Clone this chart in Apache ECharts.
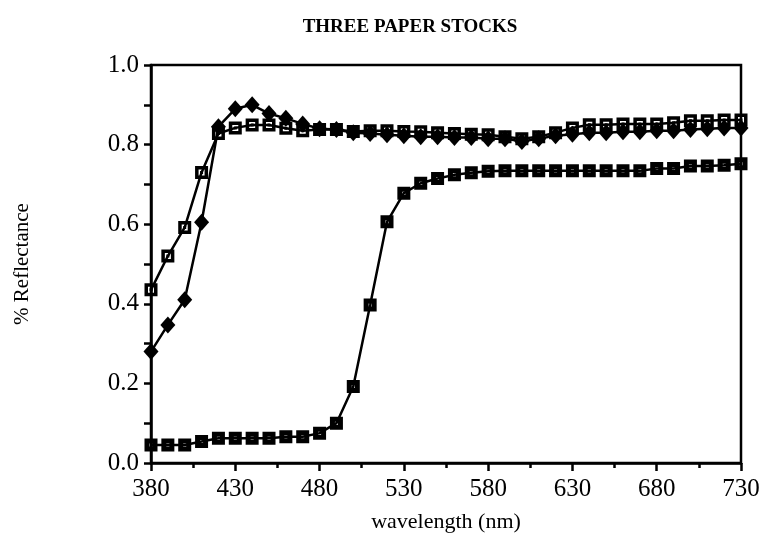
<!DOCTYPE html>
<html>
<head>
<meta charset="utf-8">
<script src="https://cdn.jsdelivr.net/npm/echarts@6/dist/echarts.min.js"></script>
<style>
  html, body { margin: 0; padding: 0; background: #fff; }
  #chart { width: 766px; height: 556px; }
</style>
</head>
<body>
<div id="chart"></div>
<script>
// Wavelengths sampled every 10 nm
const wavelengths = [380, 390, 400, 410, 420, 430, 440, 450, 460, 470,
  480, 490, 500, 510, 520, 530, 540, 550, 560, 570,
  580, 590, 600, 610, 620, 630, 640, 650, 660, 670,
  680, 690, 700, 710, 720, 730];

// Reflectance of each paper stock (fraction)
const stockOpenSquare = [0.435, 0.52, 0.592, 0.73, 0.828, 0.842, 0.849, 0.849, 0.841, 0.835,
  0.838, 0.838, 0.833, 0.835, 0.835, 0.833, 0.832, 0.830, 0.828, 0.826,
  0.825, 0.820, 0.815, 0.820, 0.830, 0.842, 0.850, 0.850, 0.852, 0.852,
  0.852, 0.855, 0.860, 0.860, 0.862, 0.862];

const stockDiamond = [0.28, 0.347, 0.41, 0.605, 0.845, 0.89, 0.90, 0.878, 0.866, 0.852,
  0.840, 0.838, 0.830, 0.828, 0.825, 0.822, 0.820, 0.820, 0.818, 0.818,
  0.815, 0.815, 0.808, 0.815, 0.822, 0.826, 0.830, 0.830, 0.832, 0.832,
  0.835, 0.835, 0.838, 0.840, 0.842, 0.842];

const stockFilledSquare = [0.045, 0.045, 0.045, 0.054, 0.062, 0.062, 0.062, 0.062, 0.066, 0.066,
  0.075, 0.10, 0.192, 0.397, 0.606, 0.678, 0.703, 0.715, 0.724, 0.729,
  0.733, 0.734, 0.734, 0.734, 0.734, 0.734, 0.734, 0.734, 0.734, 0.734,
  0.740, 0.740, 0.746, 0.746, 0.748, 0.752];

const xTicks = { min: 380, max: 730, step: 50 };
const yTicks = { min: 0, max: 1, step: 0.2 };

const pairs = vals => wavelengths.map((w, i) => [w, vals[i]]);

// Marker outlines: outer square clockwise, holes counter-clockwise (nonzero fill)
const openSquareDot = 'path://M0 0L13 0L13 13L0 13Z M3.5 3.5L3.5 9.5L9.5 9.5L9.5 3.5Z M5 5L8 5L8 8L5 8Z';
const filledSquareDot = 'path://M0 0L13 0L13 13L0 13Z M5 5L5 8L8 8L8 5Z';

const serif = '"Liberation Serif", "DejaVu Serif", serif';
const ink = '#000';

const chart = echarts.init(document.getElementById('chart'), null, { renderer: 'canvas' });

chart.setOption({
  backgroundColor: '#fff',
  animation: false,
  title: {
    text: 'THREE PAPER STOCKS',
    left: 405,
    textAlign: 'center',
    top: 13,
    textStyle: { fontFamily: serif, fontWeight: 'bold', fontSize: 19, color: ink }
  },
  grid: {
    left: 151, right: 25, top: 65, bottom: 93,
    show: true, borderColor: ink, borderWidth: 2.5, backgroundColor: 'transparent'
  },
  xAxis: {
    type: 'value',
    min: xTicks.min, max: xTicks.max, interval: xTicks.step,
    name: 'wavelength (nm)',
    nameLocation: 'middle',
    nameGap: 48,
    nameTextStyle: { fontFamily: serif, fontSize: 22, color: ink },
    axisLine: { show: true, lineStyle: { color: ink, width: 2.5 } },
    axisTick: { show: true, inside: false, length: 8, lineStyle: { color: ink, width: 2.5 } },
    minorTick: { show: true, splitNumber: 2, length: 5, lineStyle: { color: ink, width: 2.5 } },
    splitLine: { show: false },
    axisLabel: { fontFamily: serif, fontSize: 25, color: ink, margin: 14 }
  },
  yAxis: {
    type: 'value',
    min: yTicks.min, max: yTicks.max, interval: yTicks.step,
    name: '% Reflectance',
    nameLocation: 'middle',
    nameGap: 118,
    nameRotate: 90,
    nameTextStyle: { fontFamily: serif, fontSize: 21, color: ink },
    axisLine: { show: true, lineStyle: { color: ink, width: 2.5 } },
    axisTick: { show: true, inside: false, length: 7, lineStyle: { color: ink, width: 2.5 } },
    minorTick: { show: true, splitNumber: 2, length: 7, lineStyle: { color: ink, width: 2.5 } },
    splitLine: { show: false },
    axisLabel: { fontFamily: serif, fontSize: 25, color: ink, margin: 12, formatter: v => v.toFixed(1) }
  },
  series: [
    {
      name: 'Stock A', type: 'line', data: pairs(stockOpenSquare), z: 2,
      symbol: openSquareDot, symbolSize: 13, showAllSymbol: true,
      lineStyle: { color: ink, width: 2.5 },
      itemStyle: { color: ink, borderWidth: 0 }
    },
    {
      name: 'Stock B', type: 'line', data: pairs(stockDiamond), z: 3,
      symbol: 'diamond', symbolSize: [15, 17], showAllSymbol: true,
      lineStyle: { color: ink, width: 2.5 },
      itemStyle: { color: ink, borderWidth: 0 }
    },
    {
      name: 'Stock C', type: 'line', data: pairs(stockFilledSquare), z: 2,
      symbol: filledSquareDot, symbolSize: 13, showAllSymbol: true,
      lineStyle: { color: ink, width: 2.5 },
      itemStyle: { color: ink, borderWidth: 0 }
    }
  ]
});
</script>
</body>
</html>
